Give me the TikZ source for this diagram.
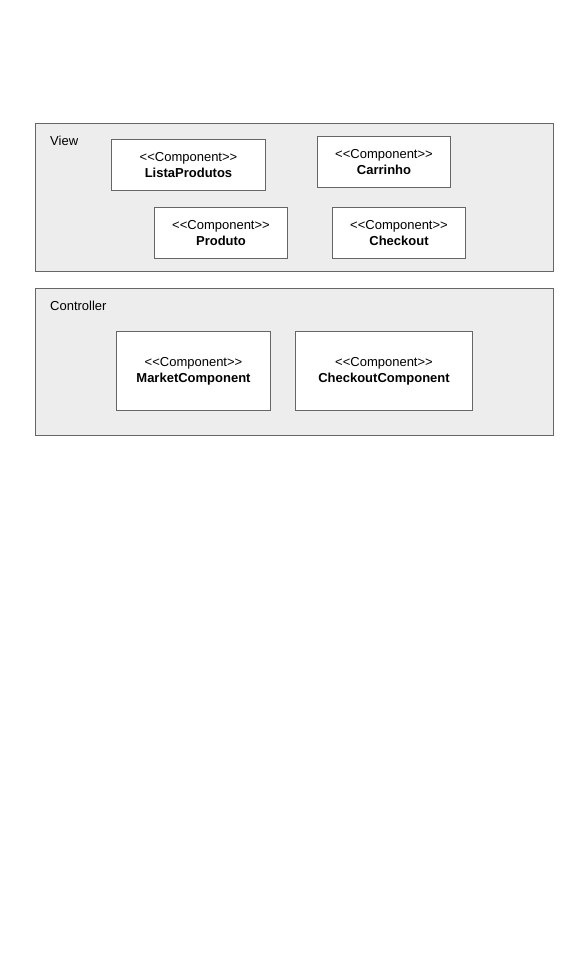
\documentclass[tikz,border=0pt]{standalone}
\usepackage{fontspec}
\setmainfont{Liberation Sans}
\definecolor{pkgfill}{HTML}{EDEDED}
\definecolor{linegray}{HTML}{666666}
\newcommand{\compstereo}{<{}<Component>{}>}
\begin{document}
\begin{tikzpicture}[x=1pt,y=-1pt,
        every node/.style={font=\fontsize{13}{16}\selectfont},
        pkg/.style={draw=linegray,fill=pkgfill,line width=1pt,anchor=north west,inner sep=0pt,outer sep=0pt},
        comp/.style={draw=linegray,fill=white,line width=1pt,anchor=north west,inner sep=0pt,outer sep=0pt,align=center},
        pkglabel/.style={anchor=west,inner sep=0pt}]
        \useasboundingbox (0,0) rectangle (576,959);
        % packages
        \node [pkg,minimum width=518,minimum height=148] (view) at (35,123) {};
        \node [pkglabel] (viewlbl) at (50,140.5) {View};
        \node [pkg,minimum width=518,minimum height=147] (controller) at (35,288.5) {};
        \node [pkglabel] (controllerlbl) at (50,306) {Controller};
        % view components
        \node [comp,minimum width=154,minimum height=51] (listaprodutos) at (111.5,139.5) {\compstereo\\\textbf{ListaProdutos}};
        \node [comp,minimum width=133,minimum height=51] (carrinho) at (317.5,136.5) {\compstereo\\\textbf{Carrinho}};
        \node [comp,minimum width=133,minimum height=51] (produto) at (154.5,207.5) {\compstereo\\\textbf{Produto}};
        \node [comp,minimum width=133,minimum height=51] (checkout) at (332.5,207.5) {\compstereo\\\textbf{Checkout}};
        % controller components
        \node [comp,minimum width=154,minimum height=79] (marketcomponent) at (116.5,331.5) {\compstereo\\\textbf{MarketComponent}};
        \node [comp,minimum width=177,minimum height=79] (checkoutcomponent) at (295.5,331.5) {\compstereo\\\textbf{CheckoutComponent}};
\end{tikzpicture}
\end{document}
